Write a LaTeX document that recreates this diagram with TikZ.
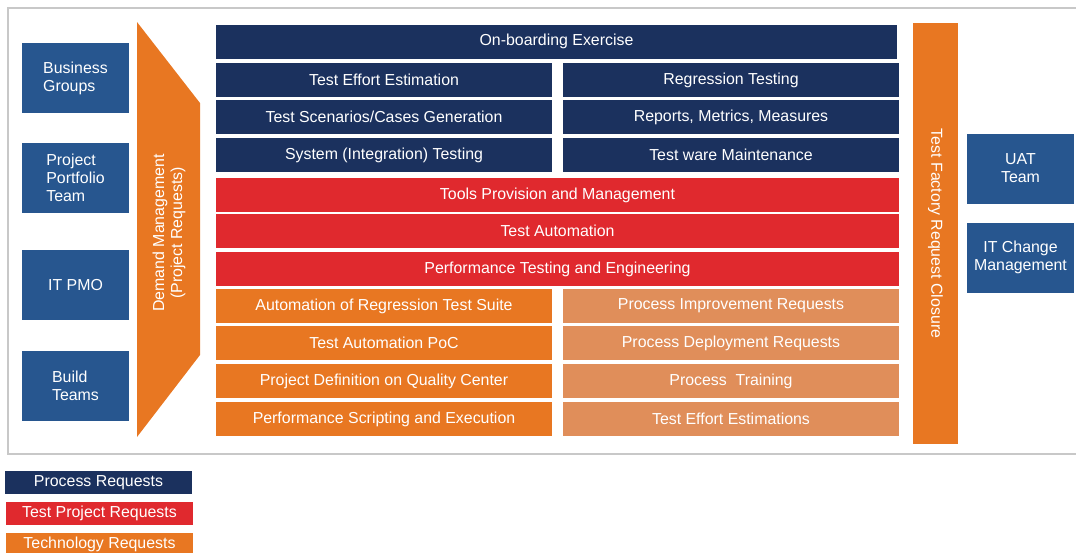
\documentclass[tikz,border=0pt]{standalone}
\usepackage{fontspec}
\setmainfont{Liberation Sans}
\usetikzlibrary{positioning}

\definecolor{navy}{HTML}{1B315E}
\definecolor{tpred}{HTML}{E0292E}
\definecolor{techorange}{HTML}{E87722}
\definecolor{softorange}{HTML}{E08E5A}
\definecolor{groupblue}{HTML}{27568F}
\definecolor{framegray}{HTML}{C8C8C8}

\begin{document}
\begin{tikzpicture}[x=1pt,y=-1pt,
    every node/.style={text=white,font=\fontsize{15.9}{18}\selectfont,
                       inner sep=0pt,outer sep=0pt},
    cell/.style={minimum height=34pt},
    process/.style={cell,fill=navy},
    project/.style={cell,fill=tpred},
    techno/.style={cell,fill=techorange},
    procsoft/.style={cell,fill=softorange},
    group/.style={fill=groupblue,minimum width=107pt,minimum height=70pt,align=left},
    legend/.style={minimum width=187pt,minimum height=23pt}
   ]
\useasboundingbox (0,0) rectangle (1076,552);

% frame
\draw[framegray,line width=2pt] (8,8) rectangle (1090,454);

% requesting groups
\node[group] (business)  at (75.5,78)  {Business\\Groups};
\node[group] (portfolio) at (75.5,178) {Project\\Portfolio\\Team};
\node[group] (itpmo)     at (75.5,285) {IT PMO};
\node[group] (build)     at (75.5,386) {Build\\Teams};

% demand funnel
\fill[techorange] (137,22) -- (200,103) -- (200,355) -- (137,437) -- cycle;
\node[rotate=90,align=center] (demand) at (169,233)
    {Demand Management\\(Project Requests)};

% services
\node[process,minimum width=681pt] (onboard) at (556.5,41.5) {On-boarding Exercise};
\node[process,minimum width=336pt] (effort)    at (384,80)  {Test Effort Estimation};
\node[process,minimum width=336pt] (scenarios) at (384,117) {Test Scenarios/Cases Generation};
\node[process,minimum width=336pt] (system)    at (384,155) {System (Integration) Testing};
\node[process,minimum width=336pt] (regress)   at (731,80)  {Regression Testing};
\node[process,minimum width=336pt] (reports)   at (731,117) {Reports, Metrics, Measures};
\node[process,minimum width=336pt] (testware)  at (731,155) {Test ware Maintenance};

\node[project,minimum width=683pt] (tools) at (557.5,195) {Tools Provision and Management};
\node[project,minimum width=683pt] (autom) at (557.5,231) {Test Automation};
\node[project,minimum width=683pt] (perf)  at (557.5,269) {Performance Testing and Engineering};

\node[techno,minimum width=336pt] (suite)    at (384,306) {Automation of Regression Test Suite};
\node[techno,minimum width=336pt] (poc)      at (384,343) {Test Automation PoC};
\node[techno,minimum width=336pt] (qcenter)  at (384,381) {Project Definition on Quality Center};
\node[techno,minimum width=336pt] (scripting) at (384,419) {Performance Scripting and Execution};
\node[procsoft,minimum width=336pt] (improve)  at (731,306) {Process Improvement Requests};
\node[procsoft,minimum width=336pt] (deploy)   at (731,343) {Process Deployment Requests};
\node[procsoft,minimum width=336pt] (training) at (731,381) {Process\ \ Training};
\node[procsoft,minimum width=336pt] (estim)    at (731,419) {Test Effort Estimations};

% closure bar
\node[fill=techorange,minimum width=45pt,minimum height=421pt] (closure) at (935.5,233.5) {};
\node[rotate=-90] (closuretext) at (closure) {Test Factory Request Closure};

% receiving groups
\node[group,align=center] (uat)    at (1020.5,168.5) {UAT\\Team};
\node[group,align=center] (change) at (1020.5,257.5) {IT Change\\Management};

% legend
\node[legend,fill=navy]       (lgprocess) at (98.5,482.5) {Process Requests};
\node[legend,fill=tpred]      (lgproject) at (99.5,513.5) {Test Project Requests};
\node[legend,fill=techorange] (lgtech)    at (99.5,544)   {Technology Requests};
\end{tikzpicture}
\end{document}
